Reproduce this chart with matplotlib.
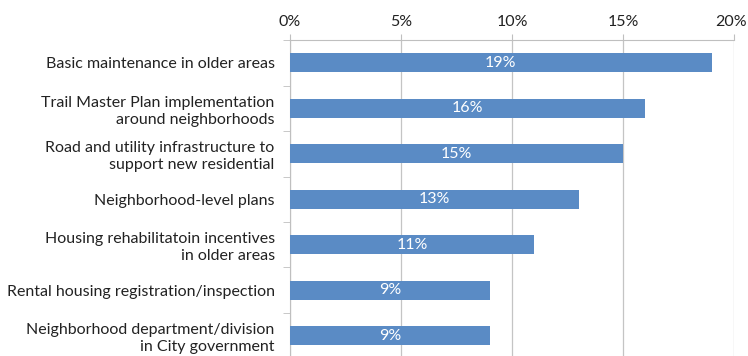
import numpy as np
import matplotlib
matplotlib.use("Agg")
import matplotlib.pyplot as plt
from matplotlib.ticker import PercentFormatter
from matplotlib.transforms import ScaledTranslation

plt.rcParams['font.family'] = ['Lato', 'DejaVu Sans']

categories = [
    "Basic maintenance in older areas",
    "Trail Master Plan implementation\naround neighborhoods",
    "Road and utility infrastructure to\nsupport new residential",
    "Neighborhood-level plans",
    "Housing rehabilitatoin incentives\nin older areas",
    "Rental housing registration/inspection",
    "Neighborhood department/division\nin City government",
]
values = [19, 16, 15, 13, 11, 9, 9]
xticks = [0, 5, 10, 15, 20]

fig = plt.figure(figsize=(7.48, 3.56), dpi=100)
ax = fig.add_axes([0.3877, -0.007, 0.5936, 0.8946])

y = np.arange(len(categories))
bars = ax.barh(y, values, height=0.42, color='#5A8BC5', zorder=3)
for b, v in zip(bars, values):
    ax.text(v / 2, b.get_y() + b.get_height() / 2, f"{v}%", color='white',
            ha='center', va='center', fontsize=11.5, zorder=4)

ax.set_xlim(0, 20)
ax.set_ylim(len(categories) - 0.5, -0.5)
ax.set_xticks(xticks)
ax.xaxis.set_major_formatter(PercentFormatter(decimals=0))
ax.xaxis.tick_top()
ax.tick_params(axis='x', length=4, color='#BFBFBF', labelsize=11.5, pad=4, labelcolor='#222222')

ax.set_yticks(y)
ax.set_yticklabels(categories, fontsize=11.5, color='#222222', linespacing=1.25)
ax.set_yticks(np.arange(len(categories) + 1) - 0.5, minor=True)
ax.tick_params(axis='y', which='major', length=0, pad=11)
ax.tick_params(axis='y', which='minor', length=5, color='#BFBFBF')

ax.grid(axis='x', color='#C4C4C4', linewidth=0.9, zorder=0)
for s in ['right', 'bottom']:
    ax.spines[s].set_visible(False)
ax.spines['top'].set_color('#BFBFBF')
ax.spines['left'].set_color('#BFBFBF')

# keep the last top label inside the canvas
fig.canvas.draw()
last = ax.xaxis.get_majorticklabels()[-1]
last.set_transform(last.get_transform() + ScaledTranslation(-3 / 100, 0, fig.dpi_scale_trans))

fig.savefig('out.png', dpi=100)
